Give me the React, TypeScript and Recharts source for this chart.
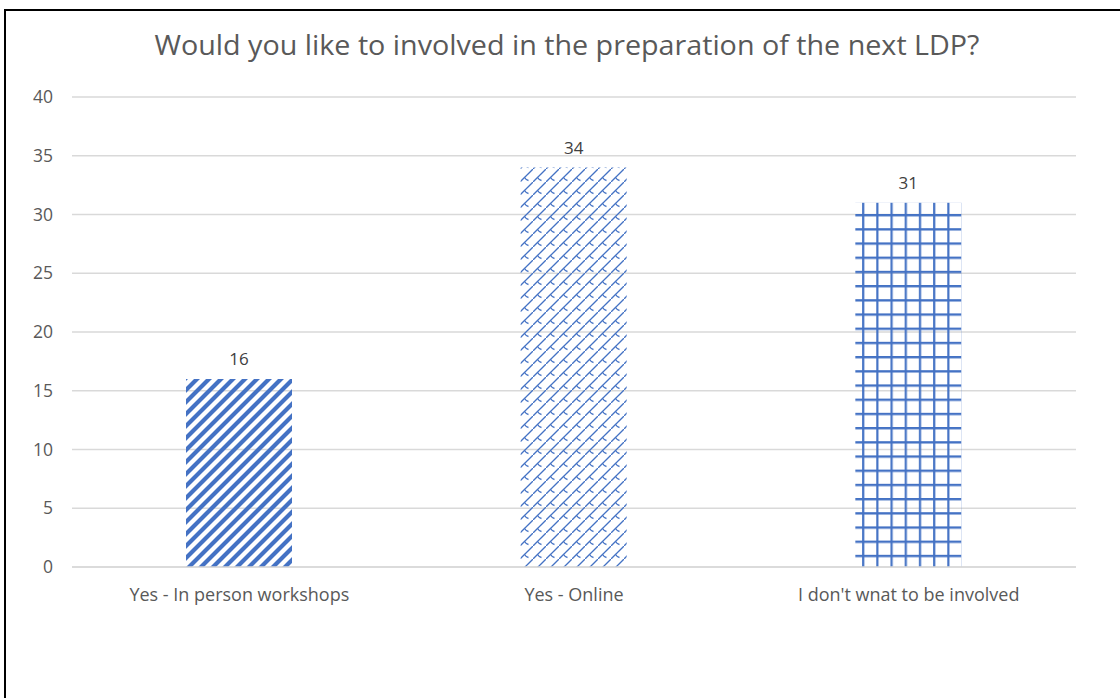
import React from "react";
import { BarChart, Bar, XAxis, YAxis, CartesianGrid, Cell, LabelList } from "recharts";

const categories = ["Yes - In person workshops", "Yes - Online", "I don't wnat to be involved"];
const values = [16, 34, 31];
const yTicks = [0, 5, 10, 15, 20, 25, 30, 35, 40];
const patternIds = ["pStripe", "pShingle", "pGrid"];
const title = "Would you like to involved in the preparation of the next LDP?";

const data = categories.map((c, i) => ({ name: c, value: values[i] }));

const FONT = "'Open Sans', 'Noto Sans', sans-serif";
const BLUE = "#4472C4";

export default function App() {
  return (
    <div style={{ position: "absolute", left: 0, top: 0, width: 1120, height: 698, overflow: "hidden", background: "#fff" }}>
      <svg width="0" height="0" style={{ position: "absolute" }}>
        <defs>
          <pattern id="pStripe" patternUnits="userSpaceOnUse" width="12" height="12">
            <path d="M-3,3 L3,-3 M0,12 L12,0 M9,15 L15,9" stroke={BLUE} strokeWidth="4.2" />
          </pattern>
          <pattern id="pShingle" patternUnits="userSpaceOnUse" width="13" height="13">
            <path d="M0,13 L13,0" stroke={BLUE} strokeWidth="1.3" fill="none" />
            <path d="M4.5,8.5 Q6,11 8.5,11.5" stroke={BLUE} strokeWidth="1.3" fill="none" />
          </pattern>
          <pattern id="pGrid" patternUnits="userSpaceOnUse" width="14.2" height="14.2" x="10" y="1">
            <path d="M0,1.2 L14.2,1.2 M1.2,0 L1.2,14.2" stroke={BLUE} strokeWidth="2.2" />
          </pattern>
        </defs>
      </svg>
      <div style={{ position: "absolute", left: 4, top: 9, width: 1300, height: 900, border: "2px solid #000", boxSizing: "border-box" }} />
      <div style={{ position: "absolute", left: 0, top: 0 }}>
        <BarChart width={1120} height={698} data={data} margin={{ top: 97, right: 44, bottom: 101, left: 0 }}>
          <text x={567} y={44} textAnchor="middle" dominantBaseline="central" fontFamily={FONT} fontSize={27} fill="#595959" textLength={825} lengthAdjust="spacingAndGlyphs">
            {title}
          </text>
          <CartesianGrid vertical={false} stroke="#d9d9d9" strokeWidth={1.5} />
          <XAxis
            dataKey="name"
            axisLine={{ stroke: "#d9d9d9", strokeWidth: 1.5 }}
            tickLine={false}
            height={30}
            tickMargin={15}
            tick={{ fontFamily: FONT, fontSize: 18, fill: "#595959" }}
          />
          <YAxis
            domain={[0, 40]}
            ticks={yTicks}
            width={72}
            axisLine={false}
            tickLine={false}
            tickSize={9}
            tickMargin={10}
            tick={{ fontFamily: FONT, fontSize: 17.5, fill: "#595959" }}
          />
          <Bar dataKey="value" barSize={106} isAnimationActive={false}>
            {data.map((d, i) => (
              <Cell key={d.name} fill={`url(#${patternIds[i]})`} />
            ))}
            <LabelList dataKey="value" position="top" offset={14} style={{ fontFamily: FONT, fontSize: 17, fill: "#404040" }} />
          </Bar>
        </BarChart>
      </div>
    </div>
  );
}
